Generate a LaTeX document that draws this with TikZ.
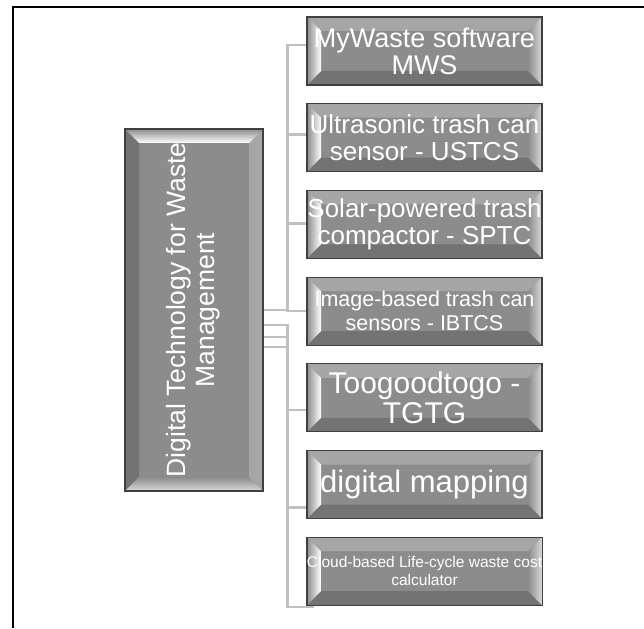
\documentclass[tikz,border=0pt]{standalone}
\usepackage{fontspec}
\setmainfont{Liberation Sans}
\usepackage{graphicx}
\usetikzlibrary{positioning,backgrounds}
\definecolor{facegray}{RGB}{140,140,140}
\definecolor{edgegray}{RGB}{64,64,64}
\definecolor{linkgray}{RGB}{192,192,192}

\begin{document}
\begin{tikzpicture}[x=1pt,y=-1pt]
    \tikzset{box/.style={rectangle,draw=edgegray,fill=facegray,line width=1.2pt,text=white,
        inner sep=0pt,align=center}}
    \tikzset{bevel/.style={box,minimum width=235pt,minimum height=68pt,
        path picture={
            \coordinate (bnw) at (path picture bounding box.north west);
            \coordinate (bne) at (path picture bounding box.north east);
            \coordinate (bsw) at (path picture bounding box.south west);
            \coordinate (bse) at (path picture bounding box.south east);
            \fill[black!35] (bnw) -- (bne) -- ([shift={(-14pt,-14pt)}]bne) -- ([shift={(14pt,-14pt)}]bnw) -- cycle;
            \fill[black!55] (bsw) -- (bse) -- ([shift={(-14pt,14pt)}]bse) -- ([shift={(14pt,14pt)}]bsw) -- cycle;
            \shade[left color=facegray,right color=white] (bnw) -- ([shift={(14pt,-14pt)}]bnw) -- ([shift={(14pt,14pt)}]bsw) -- (bsw) -- cycle;
            \shade[left color=facegray,right color=black!15] (bne) -- ([shift={(-14pt,-14pt)}]bne) -- ([shift={(-14pt,14pt)}]bse) -- (bse) -- cycle;
        }}}
    \tikzset{rootbevel/.style={box,minimum width=138pt,minimum height=362pt,
        path picture={
            \coordinate (bnw) at (path picture bounding box.north west);
            \coordinate (bne) at (path picture bounding box.north east);
            \coordinate (bsw) at (path picture bounding box.south west);
            \coordinate (bse) at (path picture bounding box.south east);
            \fill[black!35] (bne) -- (bse) -- ([shift={(-14pt,14pt)}]bse) -- ([shift={(-14pt,-14pt)}]bne) -- cycle;
            \fill[black!55] (bnw) -- (bsw) -- ([shift={(14pt,14pt)}]bsw) -- ([shift={(14pt,-14pt)}]bnw) -- cycle;
            \shade[top color=facegray,bottom color=white] (bnw) -- (bne) -- ([shift={(-14pt,-14pt)}]bne) -- ([shift={(14pt,-14pt)}]bnw) -- cycle;
            \shade[top color=facegray,bottom color=black!15] (bsw) -- (bse) -- ([shift={(-14pt,14pt)}]bse) -- ([shift={(14pt,14pt)}]bsw) -- cycle;
        }}}
    \tikzset{link/.style={draw=linkgray,line width=2.5pt}}
    \newcommand{\fs}[2]{\fontsize{#1}{#2}\selectfont}

    \useasboundingbox (0,0) rectangle (644,628);
    \draw[line width=2pt] (13,628) -- (13,7) -- (644,7);

    \node[rootbevel,font=\fs{26.5}{29}] at (194,310) (root)
        {\rotatebox{90}{\begin{tabular}{@{}c@{}}Digital Technology for Waste\\Management\end{tabular}}};

    \begin{scope}[node distance=17.5pt]
    \node[bevel,font=\fs{27}{27}] at (424.5,51) (mws) {MyWaste software\\MWS};
    \node[bevel,font=\fs{26}{27}, below=of mws] (ustcs) {Ultrasonic trash can\\sensor - USTCS};
    \node[bevel,font=\fs{26}{27}, below=of ustcs] (sptc) {Solar-powered trash\\compactor - SPTC};
    \node[bevel,font=\fs{21.5}{24}, below=of sptc] (ibtcs) {Image-based trash can\\sensors - IBTCS};
    \node[bevel,font=\fs{30}{30}, below=of ibtcs] (tgtg) {Toogoodtogo -\\TGTG};
    \node[bevel,font=\fs{31}{31}, below=of tgtg] (dmap) {digital mapping};
    \node[bevel,font=\fs{15.5}{18}, below=of dmap] (lcwc) {Cloud-based Life-cycle waste cost\\calculator};
    \end{scope}

    % elbow links, start and end shifts
    \begin{pgfonlayer}{background}
    \foreach \c/\s/\e in {mws/0/6, ustcs/0/3, sptc/0/1, ibtcs/0/0, tgtg/-15/-12, dmap/-27/-23, lcwc/-37/-36}
        \draw[link] ([yshift=\s pt]root.east) -| ([shift={(-19pt,\e pt)}]\c.west) -- ([shift={(8pt,\e pt)}]\c.west);
    \end{pgfonlayer}

\end{tikzpicture}
\end{document}
